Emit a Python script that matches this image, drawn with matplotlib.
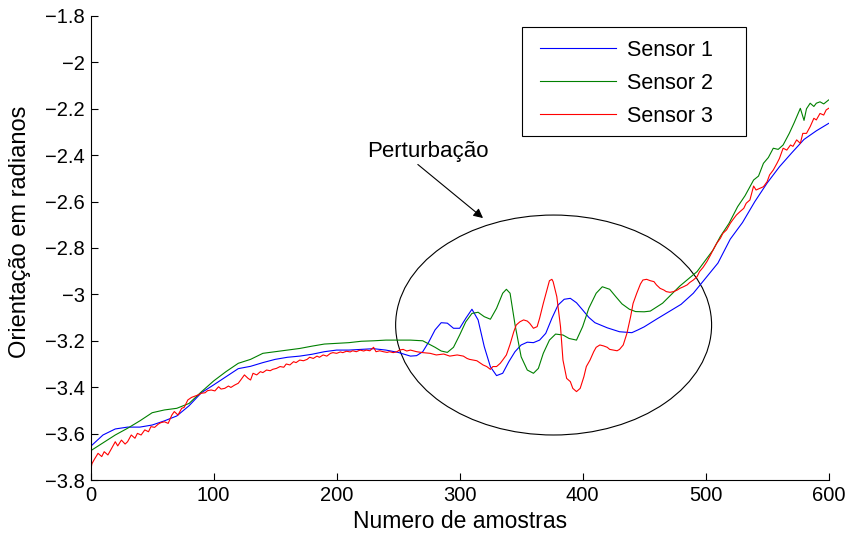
# IMPORT TOOLS
import matplotlib
matplotlib.use('Agg')
import matplotlib.pyplot as plt
from matplotlib.patches import Ellipse, Rectangle

plt.rcParams['font.family'] = ['Liberation Sans', 'DejaVu Sans']

# DATA
sensor1_x = [0, 10, 20, 30, 40, 50, 60, 70, 80, 90, 100, 110, 120, 130, 140, 150, 160, 170, 180, 190,
             200, 210, 220, 230, 240, 250, 255, 260, 265, 270, 275, 280, 285, 290, 295, 300, 305, 310,
             315, 320, 325, 330, 335, 340, 345, 350, 355, 360, 365, 370, 375, 380, 385, 390, 395, 400,
             405, 410, 420, 430, 440, 445, 450, 460, 470, 480, 490, 500, 510, 520, 530, 540, 550, 560,
             570, 580, 590, 600]
sensor1_y = [-3.655, -3.606, -3.58, -3.572, -3.572, -3.563, -3.545, -3.524, -3.48, -3.424, -3.39, -3.355,
             -3.32, -3.31, -3.294, -3.28, -3.271, -3.266, -3.258, -3.247, -3.24, -3.24, -3.237, -3.234,
             -3.24, -3.25, -3.258, -3.266, -3.264, -3.247, -3.204, -3.153, -3.122, -3.124, -3.146, -3.146,
             -3.103, -3.064, -3.11, -3.225, -3.312, -3.35, -3.34, -3.29, -3.247, -3.218, -3.206, -3.208,
             -3.197, -3.168, -3.103, -3.046, -3.021, -3.017, -3.036, -3.067, -3.099, -3.122, -3.144,
             -3.161, -3.165, -3.153, -3.14, -3.107, -3.075, -3.043, -2.995, -2.93, -2.865, -2.762, -2.69,
             -2.60, -2.52, -2.45, -2.39, -2.332, -2.295, -2.263]

sensor2_x = [0, 10, 20, 30, 40, 50, 60, 70, 80, 90, 100, 110, 120, 130, 140, 150, 160, 170, 180, 190,
             200, 210, 220, 230, 240, 250, 260, 270, 275, 280, 285, 290, 295, 300, 305, 310, 315, 320,
             325, 330, 335, 338, 341, 345, 350, 355, 360, 364, 368, 373, 378, 384, 389, 395, 400, 405,
             411, 416, 422, 427, 432, 438, 443, 450, 455, 465, 479, 493, 506, 512, 519, 526, 532, 539,
             543, 547, 551, 555, 559, 563, 568, 572, 577, 580, 582, 585, 588, 590, 593, 596, 600]
sensor2_y = [-3.674, -3.64, -3.606, -3.577, -3.545, -3.51, -3.498, -3.491, -3.47, -3.42, -3.373, -3.333,
             -3.297, -3.28, -3.254, -3.247, -3.24, -3.233, -3.223, -3.214, -3.211, -3.208, -3.202, -3.2,
             -3.197, -3.197, -3.197, -3.2, -3.214, -3.228, -3.244, -3.25, -3.228, -3.175, -3.118, -3.082,
             -3.077, -3.096, -3.107, -3.06, -2.995, -2.978, -2.995, -3.13, -3.269, -3.326, -3.34, -3.319,
             -3.254, -3.197, -3.171, -3.175, -3.19, -3.197, -3.139, -3.06, -2.995, -2.967, -2.978, -3.01,
             -3.041, -3.064, -3.074, -3.075, -3.072, -3.038, -2.964, -2.902, -2.809, -2.75, -2.694, -2.622,
             -2.575, -2.507, -2.49, -2.435, -2.41, -2.37, -2.375, -2.356, -2.306, -2.26, -2.198, -2.25,
             -2.2, -2.176, -2.19, -2.176, -2.17, -2.179, -2.162]

sensor3_x = [0, 1, 3, 6, 9, 11, 14, 17, 20, 22, 25, 28, 30, 33, 36, 38, 41, 44, 47, 49, 52, 55, 57, 60,
             63, 66, 68, 71, 74, 76, 79, 82, 85, 87, 90, 93, 95, 98, 101, 104, 106, 109, 112, 114, 117,
             120, 122, 125, 128, 130, 132, 135, 138, 140, 143, 146, 148, 151, 154, 157, 159, 162, 165,
             167, 170, 173, 176, 178, 181, 184, 186, 189, 192, 195, 197, 200, 203, 205, 208, 211, 213,
             216, 219, 222, 224, 227, 230, 232, 235, 238, 241, 243, 246, 249, 251, 254, 257, 260, 265,
             270, 276, 281, 287, 292, 298, 303, 306, 308, 314, 317, 319, 322, 325, 327, 330, 333, 335,
             338, 341, 344, 346, 349, 352, 355, 357, 360, 363, 365, 368, 371, 373, 375, 376, 379, 382,
             384, 387, 390, 392, 395, 398, 401, 403, 406, 409, 411, 414, 417, 420, 422, 425, 428, 430,
             433, 436, 439, 441, 444, 447, 449, 452, 455, 458, 460, 463, 466, 468, 471, 474, 477, 479,
             482, 485, 487, 490, 493, 495, 498, 501, 504, 506, 509, 512, 514, 517, 520, 522, 525, 528,
             531, 533, 536, 539, 541, 544, 547, 550, 552, 555, 558, 560, 563, 566, 569, 571, 574, 577,
             579, 582, 585, 588, 590, 593, 596, 598, 600]
sensor3_y = [-3.76, -3.73, -3.711, -3.685, -3.699, -3.678, -3.692, -3.664, -3.635, -3.653, -3.628, -3.645,
             -3.635, -3.606, -3.62, -3.599, -3.606, -3.584, -3.592, -3.57, -3.573, -3.559, -3.553, -3.549,
             -3.556, -3.52, -3.505, -3.52, -3.491, -3.487, -3.455, -3.444, -3.438, -3.434, -3.426, -3.424,
             -3.415, -3.412, -3.416, -3.398, -3.408, -3.405, -3.395, -3.401, -3.391, -3.383, -3.369, -3.347,
             -3.362, -3.369, -3.34, -3.347, -3.333, -3.337, -3.326, -3.329, -3.323, -3.319, -3.311, -3.314,
             -3.3, -3.304, -3.29, -3.294, -3.283, -3.286, -3.28, -3.271, -3.276, -3.266, -3.271, -3.261,
             -3.266, -3.254, -3.251, -3.254, -3.248, -3.251, -3.245, -3.248, -3.243, -3.247, -3.24, -3.244,
             -3.24, -3.243, -3.228, -3.247, -3.243, -3.247, -3.25, -3.247, -3.251, -3.247, -3.24, -3.237,
             -3.244, -3.24, -3.247, -3.251, -3.254, -3.261, -3.257, -3.266, -3.261, -3.266, -3.276, -3.28,
             -3.286, -3.297, -3.304, -3.311, -3.323, -3.311, -3.311, -3.297, -3.283, -3.261, -3.215, -3.161,
             -3.132, -3.118, -3.11, -3.115, -3.125, -3.146, -3.139, -3.103, -3.039, -2.981, -2.941, -2.935,
             -2.945, -3.01, -3.139, -3.283, -3.362, -3.376, -3.405, -3.419, -3.405, -3.355, -3.311, -3.283,
             -3.247, -3.228, -3.218, -3.222, -3.228, -3.237, -3.24, -3.243, -3.237, -3.218, -3.168, -3.096,
             -3.039, -2.995, -2.955, -2.938, -2.935, -2.941, -2.945, -2.959, -2.974, -2.981, -2.988, -2.991,
             -2.988, -2.981, -2.974, -2.967, -2.959, -2.949, -2.938, -2.924, -2.902, -2.883, -2.859, -2.83,
             -2.809, -2.78, -2.758, -2.737, -2.722, -2.694, -2.679, -2.658, -2.643, -2.629, -2.607, -2.593,
             -2.533, -2.55, -2.543, -2.536, -2.514, -2.485, -2.464, -2.435, -2.414, -2.37, -2.378, -2.356,
             -2.362, -2.334, -2.349, -2.306, -2.306, -2.277, -2.241, -2.248, -2.22, -2.227, -2.205, -2.198]

series_labels = ['Sensor 1', 'Sensor 2', 'Sensor 3']
x_ticks = [0, 100, 200, 300, 400, 500, 600]
y_ticks = [-3.8, -3.6, -3.4, -3.2, -3, -2.8, -2.6, -2.4, -2.2, -2, -1.8]

# FIGURE
fig = plt.figure(figsize=(8.49, 5.40), dpi=100)
ax = fig.add_axes([0.1068, 0.1111, 0.8692, 0.8593])

ax.plot(sensor1_x, sensor1_y, color='#0000ff', lw=0.8, label=series_labels[0])
ax.plot(sensor2_x, sensor2_y, color='#008000', lw=0.8, label=series_labels[1])
ax.plot(sensor3_x, sensor3_y, color='#ff0000', lw=0.8, label=series_labels[2])

# PERTURBATION MARK
ax.add_patch(Ellipse((376.4, -3.132), 256.9, 0.948, fill=False, ec='black', lw=0.8))
ax.text(274, -2.386, 'Perturbação', ha='center', va='center', fontsize=16)
ax.annotate('', xy=(319, -2.671), xytext=(266, -2.44),
            arrowprops=dict(arrowstyle='-|>', color='black', lw=0.8, shrinkA=0, shrinkB=0,
                            mutation_scale=14))

# AXES
ax.set_xlim(0, 600)
ax.set_ylim(-3.8, -1.8)
ax.set_xticks(x_ticks)
ax.set_yticks(y_ticks)
ax.set_yticklabels(['\u2212' + ('%g' % abs(t)) for t in y_ticks])
for side in ['top', 'right']:
    ax.spines[side].set_visible(False)
for side in ['left', 'bottom']:
    ax.spines[side].set_linewidth(0.8)
ax.tick_params(direction='in', length=5, width=0.8, labelsize=14.5, pad=4)
ax.set_xlabel('Numero de amostras', fontsize=16.5, labelpad=4)
ax.set_ylabel('Orientação em radianos', fontsize=17)
ax.yaxis.set_label_coords(-0.081, 0.534)

# LEGEND (MATLAB STYLE BOX, WIDER THAN ITS CONTENT)
ax.add_patch(Rectangle((0.5844, 0.7414), 0.3035, 0.2349, transform=ax.transAxes,
                       facecolor='white', edgecolor='black', lw=0.8, zorder=4))
leg = ax.legend(loc='upper left', bbox_to_anchor=(0.5912, 0.9763), borderaxespad=0,
                fontsize=15.5, handlelength=3.55, handletextpad=0.5, borderpad=0.6,
                labelspacing=0.55, frameon=False)
leg.set_zorder(5)

fig.savefig('out.png', dpi=100)
